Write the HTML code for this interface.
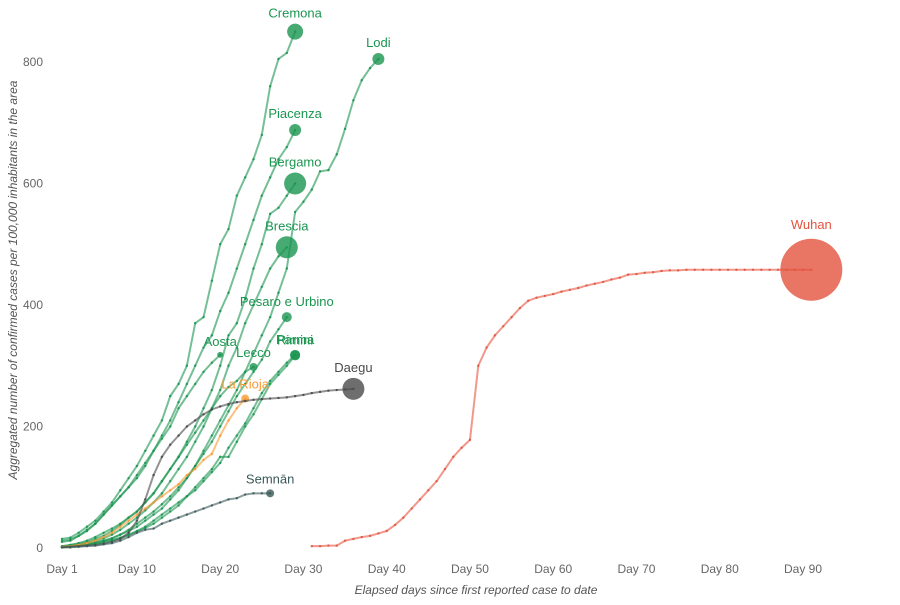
<!DOCTYPE html>
<html><head><meta charset="utf-8"><style>
body{margin:0;background:#fff;font-family:"Liberation Sans",sans-serif}
svg text{font-family:"Liberation Sans",sans-serif}
</style></head><body>
<svg id="chart" width="900" height="600" xmlns="http://www.w3.org/2000/svg"></svg>
<script>
const xTicks=[1,10,20,30,40,50,60,70,80,90];
const yTicks=[0,200,400,600,800];
const seriesNames=["Cremona","Lodi","Piacenza","Bergamo","Brescia","Pesaro e Urbino","Rimini","Parma","Aosta","Lecco","La Rioja","Daegu","Semnān","Wuhan"];
const seriesStart=[1,1,1,1,1,1,1,1,1,1,1,1,1,31];
const cremona=[15,17,25,35,45,60,75,95,115,135,160,185,210,250,270,300,370,380,440,500,525,580,610,640,680,760,805,815,850];
const lodi=[2,3,5,7,9,12,16,22,28,35,45,55,65,80,95,115,135,160,185,210,235,260,290,320,350,380,420,460,553,570,590,620,622,648,690,737,770,790,805];
const piacenza=[12,14,20,28,40,55,70,85,100,120,140,160,185,210,240,270,300,330,350,390,420,460,500,540,580,610,640,660,688];
const bergamo=[3,5,8,12,18,25,32,40,50,60,75,90,110,130,150,175,200,230,260,300,350,370,410,460,500,550,560,580,600];
const brescia=[2,3,5,8,12,16,22,30,40,50,62,75,90,110,130,150,175,200,230,260,300,330,370,400,430,460,480,495];
const pesaro=[2,3,4,6,9,12,16,22,30,40,50,60,72,85,100,115,135,155,175,200,225,250,270,290,310,340,360,380];
const rimini=[2,3,4,5,7,10,13,17,22,28,35,45,55,65,75,85,100,115,130,150,150,175,200,220,245,270,285,300,317];
const parma=[1,2,3,5,7,9,12,16,21,27,33,40,50,60,70,85,95,110,125,140,165,185,205,230,255,275,290,305,318];
const aosta=[10,12,20,30,40,55,70,85,100,115,135,160,180,200,230,250,270,290,305,318];
const lecco=[3,5,7,10,15,20,28,38,50,60,75,90,110,130,150,170,190,210,230,250,265,275,290,298];
const larioja=[2,3,5,8,12,18,25,35,45,55,65,75,85,95,105,120,130,145,155,185,210,230,246];
const daegu=[1,2,3,4,5,7,10,15,25,45,80,120,150,170,185,200,210,220,228,233,237,240,242,244,245,246,247,248,250,252,255,257,259,260,261,262];
const semnan=[1,1,2,3,4,6,8,12,18,25,30,32,40,45,50,55,60,65,70,75,80,82,88,90,90,90];
const wuhan=[3,3,4,4,12,15,18,20,24,28,38,50,65,80,95,110,130,150,165,178,300,330,350,365,380,395,407,412,415,418,422,425,428,432,435,438,442,445,450,451,453,454,456,457,457,458,458,458,458,458,458,458,458,458,458,458,458,458,458,458,458];
const bubbleSize=[8,6,6,11,11,5,5,5,3,4,4,11,4,31];
const seriesData=[cremona,lodi,piacenza,bergamo,brescia,pesaro,rimini,parma,aosta,lecco,larioja,daegu,semnan,wuhan];

const NS="http://www.w3.org/2000/svg";
const svg=document.getElementById('chart');
const X=d=>62+(d-1)*(803-62)/89;
const Y=v=>548-v*(548-62)/800;
function mk(t,a){const e=document.createElementNS(NS,t);for(const k in a)e.setAttribute(k,a[k]);svg.appendChild(e);return e;}
function colorOf(n){if(n==="Wuhan")return "#e4533d";if(n==="Daegu")return "#4a4a4a";if(n==="Semnān")return "#3a5858";if(n==="La Rioja")return "#f99a30";return "#1a9550";}

xTicks.forEach(t=>{const e=mk('text',{x:X(t),y:573,'text-anchor':'middle','font-size':12,fill:'#666'});e.textContent='Day '+t;

});
yTicks.forEach(t=>{const e=mk('text',{x:43,y:Y(t)+4,'text-anchor':'end','font-size':12,fill:'#666'});e.textContent=t;

});
let xt=mk('text',{x:476,y:594,'text-anchor':'middle','font-size':12,'font-style':'italic',fill:'#555'});xt.textContent='Elapsed days since first reported case to date';


let yt=mk('text',{x:0,y:0,transform:'translate(17,280) rotate(-90)','text-anchor':'middle','font-size':12,'font-style':'italic',fill:'#555'});yt.textContent='Aggregated number of confirmed cases per 100,000 inhabitants in the area';



seriesData.forEach((arr,i)=>{
 const n=seriesNames[i],c=colorOf(n),s=seriesStart[i];
 const pts=arr.map((v,j)=>[X(s+j),Y(v)]);
 const p=mk('polyline',{points:pts.map(q=>q.join(',')).join(' '),fill:'none',stroke:c,'stroke-width':2,'stroke-opacity':0.6});
 
 
 pts.forEach(q=>{const d=mk('circle',{cx:q[0],cy:q[1],r:1.2,fill:c,'fill-opacity':0.9});
  
  });
 const last=pts[pts.length-1],r=bubbleSize[i];
 const b=mk('circle',{cx:last[0],cy:last[1],r:r,fill:c,'fill-opacity':0.8});
 
 
 const l=mk('text',{x:last[0],y:last[1]-r-(r>20?10:6),'text-anchor':'middle','font-size':13,fill:c});
 l.textContent=n;
 
 
});
</script>
</body></html>
